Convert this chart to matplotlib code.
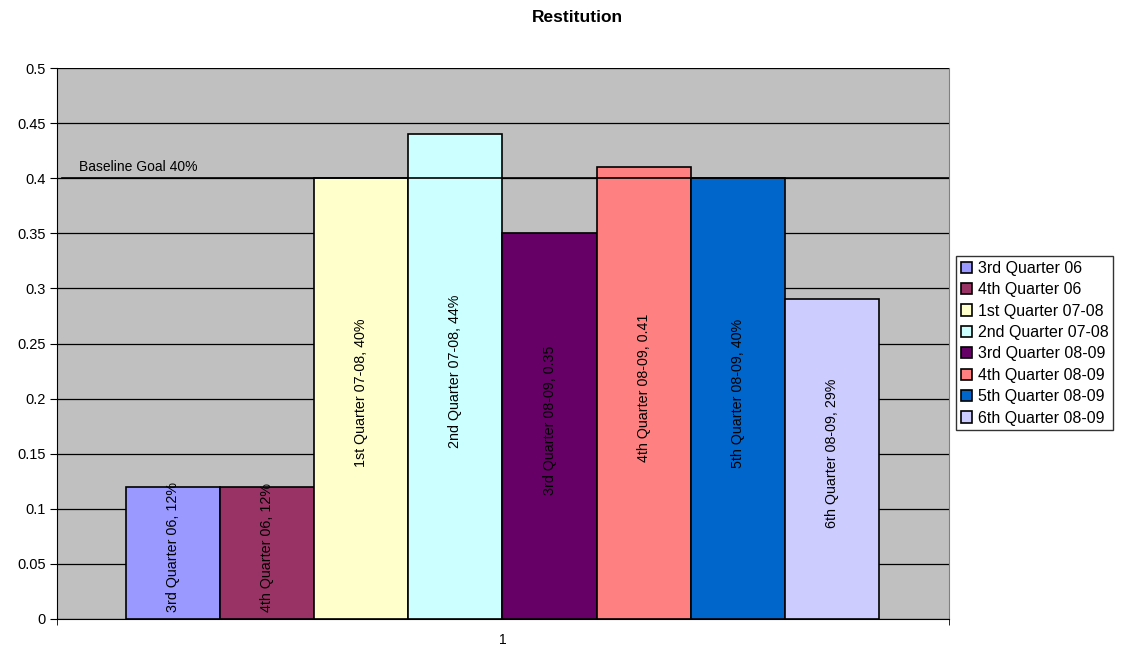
import matplotlib.pyplot as plt
import numpy as np

plt.rcParams["font.family"] = ["Liberation Sans", "DejaVu Sans"]

# Daten
quarters = ["3rd Quarter 06", "4th Quarter 06", "1st Quarter 07-08", "2nd Quarter 07-08",
            "3rd Quarter 08-09", "4th Quarter 08-09", "5th Quarter 08-09", "6th Quarter 08-09"]
values = [0.12, 0.12, 0.40, 0.44, 0.35, 0.41, 0.40, 0.29]
value_text = ["12%", "12%", "40%", "44%", "0.35", "0.41", "40%", "29%"]
colors = ["#9999FF", "#993366", "#FFFFCC", "#CCFFFF", "#660066", "#FF8080", "#0066CC", "#CCCCFF"]
goal = 0.4
goal_label = "Baseline Goal 40%"
y_ticks = [0, 0.05, 0.1, 0.15, 0.2, 0.25, 0.3, 0.35, 0.4, 0.45, 0.5]
category_label = "1"

fig = plt.figure(figsize=(11.22, 6.45), dpi=100)
ax = fig.add_axes([57 / 1122, 26 / 645, 892 / 1122, 551 / 645])
ax.set_facecolor("#C0C0C0")

x = np.arange(len(values))
for i in range(len(values)):
    ax.bar(x[i], values[i], width=1.0, color=colors[i], edgecolor="black",
           linewidth=1.2, label=quarters[i], zorder=2)
    ax.text(x[i], values[i] / 2 + 0.005, quarters[i] + ", " + value_text[i], rotation=90,
            ha="center", va="center", fontsize=10.3, zorder=4)

# Ziellinie
ax.axhline(goal, xmin=0.006, xmax=1, color="black", linewidth=1.2, zorder=3)
ax.text(0.025, goal + 0.004, goal_label, transform=ax.get_yaxis_transform(),
        fontsize=10, va="bottom", ha="left")

ax.set_xlim(-1.233, 8.244)
ax.set_ylim(0, 0.5)
ax.set_yticks(y_ticks)
ax.set_yticklabels([f"{v:g}" for v in y_ticks], fontsize=10.5)
ax.yaxis.grid(True, color="black", linewidth=0.9)
ax.set_axisbelow(True)
ax.tick_params(axis="y", direction="out", length=5, color="black", pad=3)

ax.set_xticks([x.mean()])
ax.set_xticklabels([category_label], fontsize=10)
ax.tick_params(axis="x", length=0, pad=10)
ax.set_xticks([-1.233, 8.244], minor=True)
ax.tick_params(axis="x", which="minor", length=4, direction="out")

ax.spines["top"].set_visible(False)
ax.spines["right"].set_color("#808080")
ax.spines["left"].set_color("black")
ax.spines["bottom"].set_color("black")

fig.text(577 / 1122, 1 - 17 / 645, "Restitution", ha="center", va="center",
         fontsize=12.5, fontweight="bold")

leg = ax.legend(loc="upper left", bbox_to_anchor=(956 / 1122, 1 - 256 / 645),
                bbox_transform=fig.transFigure, fontsize=11.5, frameon=True,
                fancybox=False, borderpad=0.3, labelspacing=0.4,
                handlelength=0.7, handleheight=0.7, handletextpad=0.35,
                borderaxespad=0)
leg.get_frame().set_edgecolor("black")
leg.get_frame().set_linewidth(1.0)

plt.savefig("out.png", dpi=100)
